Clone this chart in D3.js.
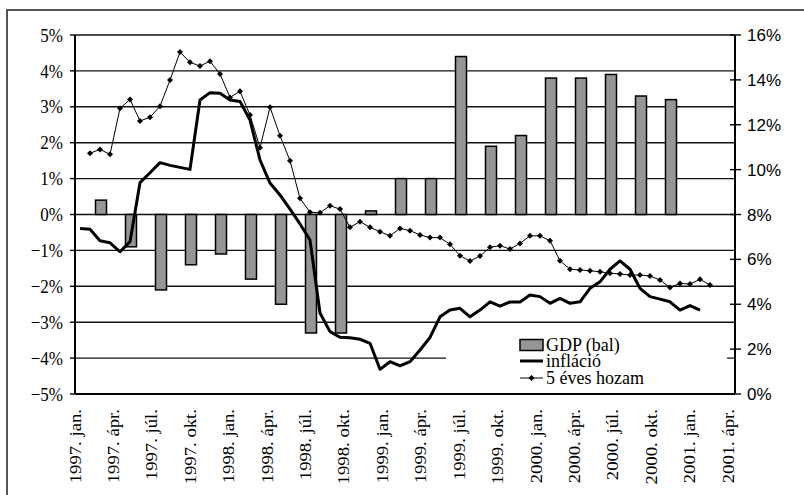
<!DOCTYPE html>
<html>
<head>
<meta charset="utf-8">
<script src="https://cdn.jsdelivr.net/npm/d3@7"></script>
<style>
  body { margin: 0; background: #fff; }
  svg { display: block; }
</style>
</head>
<body>
<div id="chart"></div>
<script>
// GDP (quarterly, left axis, %)
var gdp = [0.4, -0.9, -2.1, -1.4, -1.1, -1.8, -2.5, -3.3, -3.3, 0.1,
           1.0, 1.0, 4.4, 1.9, 2.2, 3.8, 3.8, 3.9, 3.3, 3.2];

// monthly inflation, right axis, from 1997 jan
var inflacio = [7.38, 7.34, 6.83, 6.74, 6.34, 6.79, 9.42, 9.86, 10.31, 10.19,
  10.10, 10.01, 13.10, 13.43, 13.40, 13.10, 13.04, 12.21, 10.43, 9.40,
  8.87, 8.24, 7.58, 6.86, 3.61, 2.78, 2.53, 2.51, 2.44, 2.26,
  1.10, 1.44, 1.25, 1.44, 1.96, 2.52, 3.44, 3.74, 3.82, 3.44,
  3.74, 4.11, 3.92, 4.10, 4.10, 4.41, 4.34, 4.04, 4.26, 4.04,
  4.11, 4.71, 5.00, 5.56, 5.93, 5.56, 4.71, 4.34, 4.23, 4.11,
  3.74, 3.94, 3.74];

// 5 year yield, right axis, starts one month later
var hozam = [null, 10.73, 10.90, 10.68, 12.73, 13.13, 12.17, 12.33, 12.83, 13.99,
  15.24, 14.78, 14.62, 14.83, 14.26, 13.22, 13.49, 12.43, 10.98, 12.78,
  11.51, 10.40, 8.72, 8.10, 8.08, 8.39, 8.24, 7.43, 7.68, 7.43,
  7.23, 7.05, 7.38, 7.28, 7.09, 6.97, 6.97, 6.67, 6.16, 5.93,
  6.15, 6.54, 6.61, 6.46, 6.71, 7.05, 7.05, 6.83, 5.94, 5.56,
  5.53, 5.49, 5.45, 5.38, 5.35, 5.30, 5.30, 5.26, 5.08, 4.75,
  4.93, 4.90, 5.11, 4.86];

var xLabels = ["1997. jan.", "1997. ápr.", "1997. júl.", "1997. okt.",
  "1998. jan.", "1998. ápr.", "1998. júl.", "1998. okt.",
  "1999. jan.", "1999. ápr.", "1999. júl.", "1999. okt.",
  "2000. jan.", "2000. ápr.", "2000. júl.", "2000. okt.",
  "2001. jan.", "2001. ápr."];

var leftTicks = [-5, -4, -3, -2, -1, 0, 1, 2, 3, 4, 5];
var rightTicks = [0, 2, 4, 6, 8, 10, 12, 14, 16];

var legendItems = ["GDP (bal)", "infláció", "5 éves hozam"];

var W = 804, H = 495;
var pLeft = 75, pRight = 735, pTop = 35, pBottom = 394;
var serif = "'Liberation Serif', 'Times New Roman', serif";
var sans = "'Liberation Sans', Arial, sans-serif";

var svg = d3.select("#chart").append("svg")
  .attr("width", W)
  .attr("height", H);

// outer frame (runs off the picture at right and bottom)
svg.append("rect")
  .attr("x", 7).attr("y", 10)
  .attr("width", 820).attr("height", 500)
  .attr("fill", "#fff")
  .attr("stroke", "#555")
  .attr("stroke-width", 2);

var xM = d3.scaleLinear().domain([-0.5, 65.5]).range([pLeft, pRight]);
var yL = d3.scaleLinear().domain([-5, 5]).range([pBottom, pTop]);
var yR = d3.scaleLinear().domain([0, 16]).range([pBottom, pTop]);
var xLab = d3.scalePoint().domain(xLabels).range([75, 728]);

// gridlines from the left axis
svg.append("g")
  .selectAll("line")
  .data(leftTicks)
  .enter()
  .append("line")
  .attr("x1", pLeft).attr("x2", pRight)
  .attr("y1", function(d) { return yL(d); })
  .attr("y2", function(d) { return yL(d); })
  .attr("stroke", "#111")
  .attr("stroke-width", 1.4);

// GDP bars, one per quarter, at the last month of the quarter
var barW = 11;
svg.append("g")
  .selectAll("rect")
  .data(gdp)
  .enter()
  .append("rect")
  .attr("x", function(d, i) { return xM(i * 3 + 2) - barW / 2 + 1; })
  .attr("width", barW)
  .attr("y", function(d) { return yL(Math.max(0, d)); })
  .attr("height", function(d) { return Math.abs(yL(d) - yL(0)); })
  .attr("fill", "#969696")
  .attr("stroke", "#000")
  .attr("stroke-width", 1.5);

// left axis
var gl = svg.append("g");
gl.append("line")
  .attr("x1", pLeft).attr("x2", pLeft)
  .attr("y1", pTop).attr("y2", pBottom)
  .attr("stroke", "#000").attr("stroke-width", 2);
gl.selectAll("line.tick")
  .data(leftTicks)
  .enter()
  .append("line")
  .attr("class", "tick")
  .attr("x1", pLeft - 5).attr("x2", pLeft)
  .attr("y1", function(d) { return yL(d); })
  .attr("y2", function(d) { return yL(d); })
  .attr("stroke", "#000").attr("stroke-width", 1.4);
// the source text is a little taller than wide
gl.selectAll("text")
  .data(leftTicks)
  .enter()
  .append("text")
  .attr("transform", function(d) { return "translate(63," + yL(d) + ") scale(1,1.12)"; })
  .attr("dy", "0.35em")
  .attr("text-anchor", "end")
  .style("font-family", serif)
  .style("font-size", "17px")
  .text(function(d) { return (d < 0 ? "\u2212" + Math.abs(d) : d) + "%"; });

// right axis
var gr = svg.append("g");
gr.append("line")
  .attr("x1", pRight).attr("x2", pRight)
  .attr("y1", pTop).attr("y2", pBottom)
  .attr("stroke", "#000").attr("stroke-width", 2);
gr.selectAll("line.tick")
  .data(rightTicks)
  .enter()
  .append("line")
  .attr("class", "tick")
  .attr("x1", pRight - 5).attr("x2", pRight + 6)
  .attr("y1", function(d) { return yR(d); })
  .attr("y2", function(d) { return yR(d); })
  .attr("stroke", "#000").attr("stroke-width", 1.4);
gr.selectAll("text")
  .data(rightTicks)
  .enter()
  .append("text")
  .attr("x", 747)
  .attr("y", function(d) { return yR(d); })
  .attr("dy", "0.36em")
  .style("font-family", sans)
  .style("font-size", "17px")
  .text(function(d) { return d + "%"; });

// bottom axis line
svg.append("line")
  .attr("x1", pLeft).attr("x2", pRight)
  .attr("y1", pBottom).attr("y2", pBottom)
  .attr("stroke", "#000").attr("stroke-width", 2);

// x labels, rotated and stretched along the text
svg.append("g")
  .selectAll("text")
  .data(xLabels)
  .enter()
  .append("text")
  .attr("transform", function(d) { return "translate(" + xLab(d) + ",409) rotate(-90) scale(1.17,1)"; })
  .attr("dy", "0.35em")
  .attr("text-anchor", "end")
  .style("font-family", serif)
  .style("font-size", "16px")
  .text(function(d) { return d; });

// inflation line
var lineInf = d3.line()
  .x(function(d, i) { return xM(i); })
  .y(function(d) { return yR(d); });
svg.append("path")
  .datum(inflacio)
  .attr("d", lineInf)
  .attr("fill", "none")
  .attr("stroke", "#000")
  .attr("stroke-width", 3)
  .attr("stroke-linejoin", "round");

// yield line with diamonds
var lineHoz = d3.line()
  .defined(function(d) { return d !== null; })
  .x(function(d, i) { return xM(i); })
  .y(function(d) { return yR(d); });
svg.append("path")
  .datum(hozam)
  .attr("d", lineHoz)
  .attr("fill", "none")
  .attr("stroke", "#000")
  .attr("stroke-width", 1);

var diamond = "M0,-3L3,0L0,3L-3,0Z";
svg.append("g")
  .selectAll("path")
  .data(hozam.map(function(d, i) { return { v: d, i: i }; }).filter(function(d) { return d.v !== null; }))
  .enter()
  .append("path")
  .attr("d", diamond)
  .attr("transform", function(d) { return "translate(" + xM(d.i) + "," + yR(d.v) + ")"; })
  .attr("fill", "#000");

// legend
var lg = svg.append("g");
lg.append("rect")
  .attr("x", 446).attr("y", 331)
  .attr("width", 281).attr("height", 60)
  .attr("fill", "#fff");
var rowY = [345, 361, 378];
lg.append("rect")
  .attr("x", 520).attr("y", rowY[0] - 5.5)
  .attr("width", 23).attr("height", 11)
  .attr("fill", "#969696").attr("stroke", "#000").attr("stroke-width", 1.5);
lg.append("line")
  .attr("x1", 520).attr("x2", 543)
  .attr("y1", rowY[1]).attr("y2", rowY[1])
  .attr("stroke", "#000").attr("stroke-width", 3);
lg.append("line")
  .attr("x1", 520).attr("x2", 543)
  .attr("y1", rowY[2]).attr("y2", rowY[2])
  .attr("stroke", "#000").attr("stroke-width", 1);
lg.append("path")
  .attr("d", diamond)
  .attr("transform", "translate(531.5," + rowY[2] + ")")
  .attr("fill", "#000");
lg.selectAll("text")
  .data(legendItems)
  .enter()
  .append("text")
  .attr("x", 546)
  .attr("y", function(d, i) { return rowY[i]; })
  .attr("dy", "0.33em")
  .style("font-family", serif)
  .style("font-size", "18px")
  .text(function(d) { return d; });
</script>
</body>
</html>
